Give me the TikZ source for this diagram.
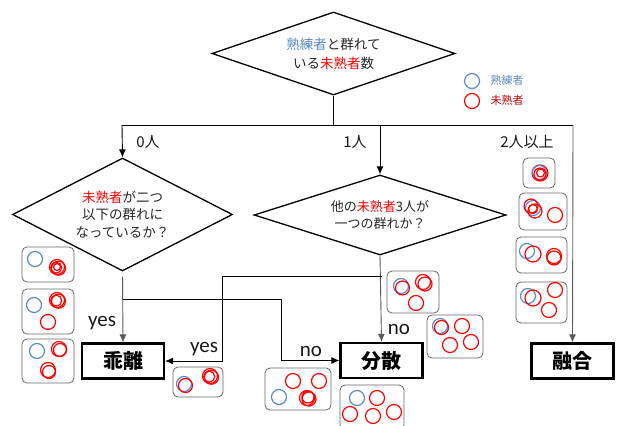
\documentclass[tikz,border=0pt]{standalone}
\usepackage{fontspec}
\setmainfont{Noto Sans CJK JP}
\newfontfamily\lat{Carlito}
\usetikzlibrary{shapes.geometric,arrows.meta}
\definecolor{skyb}{HTML}{5B89C8}
\definecolor{legred}{HTML}{C00000}
\definecolor{pred}{HTML}{FF0000}
\newcommand\bc[2]{\draw[bcir] (#1,#2) circle (7.5pt);}
\newcommand\rc[2]{\draw[rcir] (#1,#2) circle (7.5pt);}
\newcommand\rcl[2]{\draw[rcir] (#1,#2) circle (7.5pt);\draw[rcir] (#1+1.5,#2+1.2) circle (7pt);\draw[rcir] (#1-0.8,#2+0.6) circle (5.5pt);}
\begin{document}
\begin{tikzpicture}[x=1pt,y=-1pt,
  dia/.style={draw,diamond,line width=1.3pt,inner sep=0pt,minimum width=#1},
  dtext/.style={font=\fontsize{13.5}{19}\selectfont,align=center,text=black!85},
  res/.style={draw,line width=2.2pt,minimum width=82pt,minimum height=35pt,inner sep=0pt,font=\fontsize{20}{22}\selectfont\bfseries},
  arr/.style={-{Latex[length=8pt,width=7pt]},line width=0.9pt},
  gl/.style={draw=black!65},
  lab/.style={font=\fontsize{15}{16}\selectfont,text=black!90},
  yn/.style={font=\lat\fontsize{21}{22}\selectfont,text=black!90},
  gbox/.style={draw=black!60,line width=0.8pt,rounded corners=5pt},
  bcir/.style={draw=skyb,line width=1.2pt},
  rcir/.style={draw=pred,line width=1.2pt}]
\useasboundingbox (0,0) rectangle (617,425);
% diamonds
\node[dia=243pt,minimum height=83pt] (d1) at (333.5,53.5) {};
\node[dtext] (d1t) at (d1.center) {\textcolor{skyb}{熟練者}と群れて\\いる\textcolor{pred}{未熟者}数};
\node[dia=220pt,minimum height=113pt] (d2) at (122.5,214.5) {};
\node[dtext,font=\fontsize{13.5}{17.5}\selectfont] (d2t) at (d2.center) {\textcolor{pred}{未熟者}が二つ\\以下の群れに\\なっているか？};
\node[dia=252pt,minimum height=80pt] (d3) at (380,215) {};
\node[dtext,font=\fontsize{13}{17.5}\selectfont] (d3t) at (d3.center) {他の\textcolor{pred}{未熟者}3人が\\一つの群れか？};
% results
\node[res] (kairi) at (123,361) {乖離};
\node[res] (bunsan) at (381.5,360.5) {分散};
\node[res] (yugo) at (572.5,361) {融合};
% top connectors
\coordinate (hl) at (122,125);
\coordinate (hr) at (573,125);
\draw[line width=0.9pt] (d1.south) -- (d1.south |- hl);
\draw[line width=0.9pt] (hl) -- (hr);
\draw[arr] (hl) -- (d2.north);
\draw[arr] (d3.north |- hl) -- (d3.north);
\draw[arr,gl] (hr) -- (yugo.north);
\node[lab] (l0) at (148,142) {0人};
\node[lab] (l1) at (355,142) {1人};
\node[lab] (l2) at (527,142) {2人以上};
% left diamond
\draw[arr,gl,shorten <=5pt] (d2.south) -- (kairi.north);
\coordinate (b1) at (123,299);
\coordinate (b2) at (281,299);
\draw[arr] (b1) -- (b2) |- (bunsan.west);
\node[yn] (y1) at (102,323) {yes};
\node[yn] (n1) at (311,351) {no};
% middle diamond
\draw[arr,gl] (d3.south) -- (bunsan.north);
\coordinate (c1) at (381.5,276);
\coordinate (c2) at (222,276);
\draw[arr] (c1) -- (c2) |- (kairi.east);
\node[yn] (y2) at (204,349) {yes};
\node[yn] (n2) at (399,329) {no};
% legend
\draw[bcir] (472,81) circle (7.5pt);
\node[anchor=west,font=\fontsize{11}{12}\selectfont,text=skyb] (lg1) at (487,80) {熟練者};
\draw[rcir] (472,101) circle (7.5pt);
\node[anchor=west,font=\fontsize{11}{12}\selectfont,text=legred] (lg2) at (487,100) {未熟者};
% group boxes: left column
\draw[gbox] (22,247) rectangle (74,282);
\bc{35}{259}\rcl{57}{267}\draw[rcir] (57,267) circle (3.5pt);
\draw[gbox] (22,289) rectangle (74,334);
\bc{34}{305}\rcl{57}{300}\rc{48}{322}
\draw[gbox] (22,339) rectangle (74,383);
\bc{37}{351}\draw[rcir] (59,349) circle (7.5pt);\draw[rcir] (60,350) circle (6.5pt);
\draw[rcir] (48,370) circle (7.5pt);\draw[rcir] (49,372) circle (6.5pt);
% near yes
\draw[gbox] (173,367) rectangle (223,397);
\bc{184}{384}\draw[rcir] (185.5,385.5) circle (7pt);
\rcl{210}{376}
% middle
\draw[gbox] (387,271) rectangle (439,313);
\bc{401}{286}\draw[rcir] (402.5,288) circle (7pt);
\draw[rcir] (423,282) circle (7.5pt);\draw[rcir] (425,284) circle (7pt);
\rc{416}{303}
\draw[gbox] (427,315) rectangle (483,358);
\bc{440}{326}\draw[rcir] (441.5,327.5) circle (7pt);
\rc{462}{326}\rc{450}{345}\rc{471}{342}
\draw[gbox] (265,368) rectangle (331,410);
\rc{293}{381}\rc{319}{381}\bc{279}{397}
\draw[rcir] (307,398) circle (7.5pt);\draw[rcir] (309,399) circle (7pt);\draw[rcir] (308,397) circle (6pt);
\draw[gbox] (340,385) rectangle (404,430);
\bc{357}{398}\rc{377}{398}\rc{350}{414}\rc{373}{416}\rc{394}{412}
% right column
\draw[gbox] (523,158) rectangle (555,188);
\draw[rcir] (540,173) circle (8pt);\draw[bcir] (539.5,172.5) circle (7pt);
\draw[rcir] (540,174) circle (6pt);\draw[rcir] (540.5,173) circle (4pt);
\draw[gbox] (519,193) rectangle (567,230);
\bc{533}{208}\draw[rcir] (531,206) circle (7pt);\draw[rcir] (535,211) circle (7pt);\draw[rcir] (533,209) circle (4.5pt);
\rc{555}{215}
\draw[gbox] (516,237) rectangle (567,273);
\bc{527}{251}\draw[rcir] (533,254) circle (8pt);
\draw[rcir] (554,256) circle (7.5pt);\draw[rcir] (554,258) circle (7pt);
\draw[gbox] (516,282) rectangle (567,323);
\bc{528}{296}\draw[rcir] (533,298) circle (8pt);
\rc{555}{290}\rc{549}{310}
\end{tikzpicture}
\end{document}
